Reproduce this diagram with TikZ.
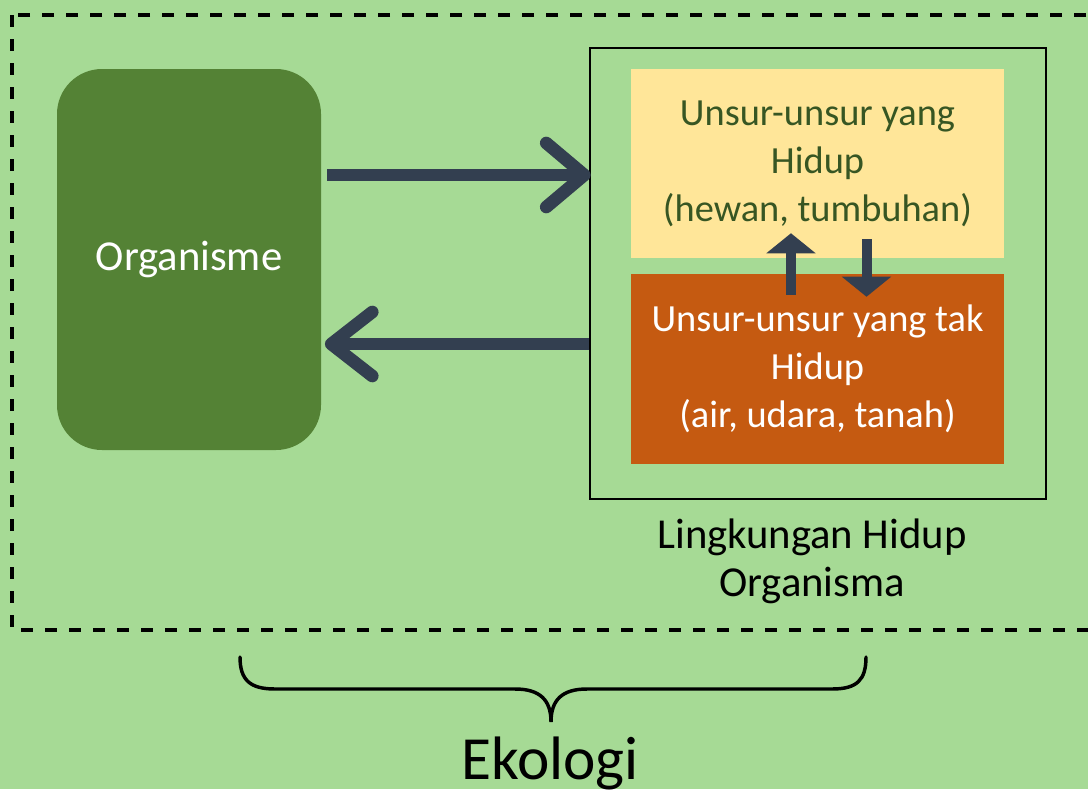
\documentclass[tikz,border=0pt]{standalone}
\usepackage{fontspec}
\setmainfont{Carlito}
\usetikzlibrary{arrows.meta,calc}
\definecolor{bg}{RGB}{166,218,149}
\definecolor{orggreen}{RGB}{84,130,53}
\definecolor{lightyel}{RGB}{255,230,153}
\definecolor{rust}{RGB}{197,90,17}
\definecolor{slate}{RGB}{51,63,80}
\definecolor{txtgreen}{RGB}{55,86,35}
\begin{document}
\begin{tikzpicture}[x=0.75pt,y=-0.75pt,
  bodytext/.style={align=center,font=\fontsize{28.8}{36}\selectfont},
  largetext/.style={align=center,font=\fontsize{32}{36}\selectfont},
  orgbox/.style={fill=orggreen,rounded corners=33.75pt,minimum width=198pt,minimum height=285.75pt,text=white,largetext},
  partbox/.style={minimum width=279.75pt,bodytext},
  envbox/.style={draw=black,line width=1.1pt,minimum width=342pt,minimum height=338.25pt},
  bigshaft/.style={draw=slate,line width=9.5pt},
  chev/.style={draw=slate,line width=9.5pt,line cap=round,line join=round},
  smallarrow/.style={draw=slate,line width=7.5pt,-{Triangle[length=15pt,width=37pt,line width=0pt]}},
  ecoframe/.style={draw=black,line width=2.4pt,dash pattern=on 9pt off 9pt},
  bracepath/.style={draw=black,line width=2.6pt,line cap=round}]
\useasboundingbox (0,0) rectangle (1088,789);
\clip (0,0) rectangle (1088,789);
\fill[bg] (0,0) rectangle (1088,789);

% ecology frame (open to the right)
\draw[ecoframe] (12,15) rectangle (1110,630);

% organism
\node[orgbox] (org) at (189,259.5) {Organisme};

% living environment
\node[envbox] (env) at (818,273.5) {};
\node[partbox,fill=lightyel,text=txtgreen,minimum height=141.75pt] (yel) at (817.5,163.5)
  {Unsur-unsur yang\\Hidup\\(hewan, tumbuhan)};
\node[partbox,fill=rust,text=white,minimum height=142.5pt] (ora) at (817.5,369)
  {Unsur-unsur yang tak\\Hidup\\(air, udara, tanah)};
\node[largetext] (envlabel) at (812,561) {Lingkungan Hidup\\Organisma};

% exchange between the two parts
\draw[smallarrow] ([xshift=-19.9pt,yshift=-15.75pt]ora.north) -- ([xshift=-19.9pt,yshift=18.75pt]yel.south);
\draw[smallarrow] ([xshift=36.75pt,yshift=14.25pt]yel.south) -- ([xshift=36.75pt,yshift=-17.25pt]ora.north);

% organism <-> environment
\coordinate (lvA) at (0,175);
\coordinate (lvB) at (0,344);
\draw[bigshaft] ([xshift=4.5pt]org.east |- lvA) -- ($(env.west |- lvA)+(-5,0)$);
\draw[chev] ($(env.west |- lvA)+(-43,-32)$) -- ($(env.west |- lvA)+(-5,0)$) -- ($(env.west |- lvA)+(-43,32)$);
\draw[bigshaft] (env.west |- lvB) -- ($(org.east |- lvB)+(10,0)$);
\draw[chev] ($(org.east |- lvB)+(51,-32)$) -- ($(org.east |- lvB)+(10,0)$) -- ($(org.east |- lvB)+(51,32)$);

% brace and title
\draw[bracepath] (240,657) .. controls (240,680) and (250,689) .. (275,689) -- (515,689)
  .. controls (540,689) and (551,700) .. (551,722)
  .. controls (551,700) and (562,689) .. (587,689) -- (832,689)
  .. controls (857,689) and (866,680) .. (866,657);
\node[font=\fontsize{46}{50}\selectfont] (eco) at (550,763) {Ekologi};
\end{tikzpicture}
\end{document}
